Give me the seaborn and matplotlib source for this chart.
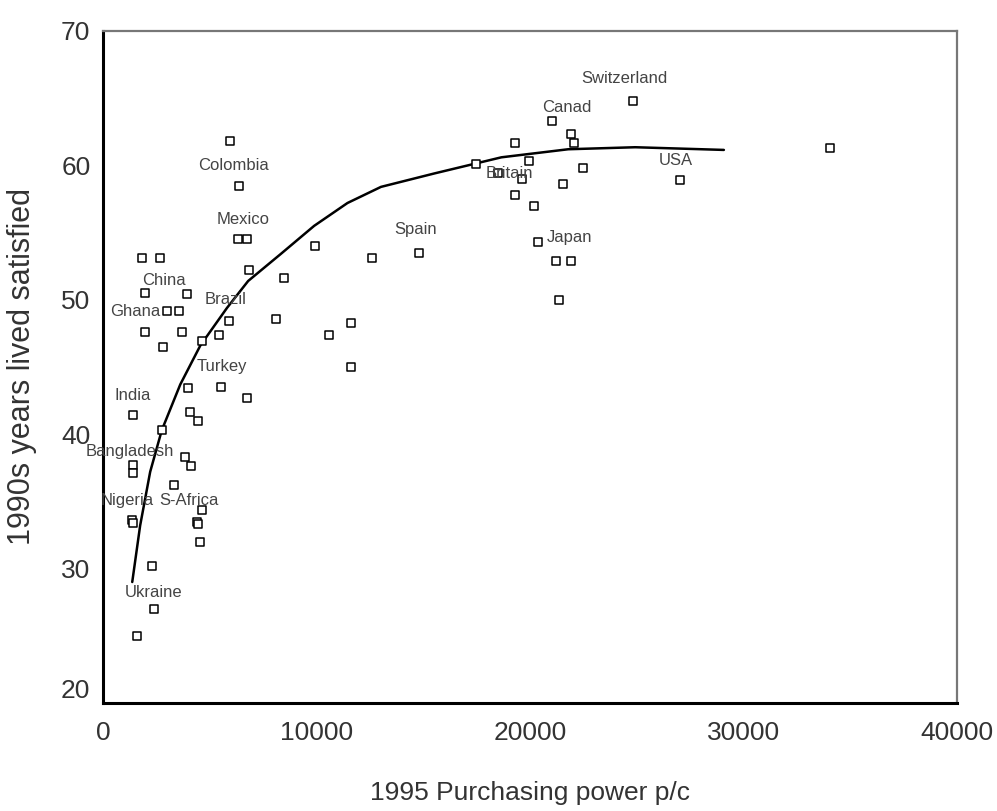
import numpy as np
import pandas as pd
import seaborn as sns
import matplotlib.pyplot as plt

# points: purchasing power p/c vs years lived satisfied
ppp = [1819, 2679, 1960, 3934, 2994, 3560, 1960, 3720, 2806, 4650,
       5450, 5900, 8100, 6850, 8475, 6312, 6752, 5969, 6364, 9940,
       12620, 14800, 11609, 10590, 11609, 3970, 5520, 6752, 1424, 4056,
       4440, 2755, 1424, 1424, 3854, 4100, 3305, 4638, 1350, 1410,
       4380, 4450, 4540, 2288, 2366, 1583, 24845, 21009, 21916, 22072,
       19284, 19942, 17484, 18503, 19632, 22500, 21559, 19284, 20194, 20382,
       21197, 21916, 21356, 27040, 34043]
satisfied = [53.1, 53.1, 50.5, 50.4, 49.2, 49.2, 47.6, 47.6, 46.5, 46.9,
             47.4, 48.45, 48.55, 52.25, 51.65, 54.55, 54.55, 61.85, 58.5, 54.0,
             53.1, 53.5, 48.3, 47.4, 45.0, 43.4, 43.5, 42.7, 41.4, 41.65,
             40.95, 40.3, 37.7, 37.1, 38.3, 37.6, 36.2, 34.35, 33.6, 33.4,
             33.5, 33.3, 32.0, 30.2, 27.0, 25.0, 64.8, 63.3, 62.35, 61.65,
             61.7, 60.35, 60.1, 59.4, 59.0, 59.8, 58.6, 57.8, 57.0, 54.3,
             52.9, 52.9, 50.0, 58.9, 61.3]

# fitted curve, read at points along the line
fit_x = [1370, 1740, 2210, 2755, 3620, 4560, 5810, 6800, 8320, 9890,
         11450, 13020, 15520, 18660, 21790, 24930, 29080]
fit_y = [29.0, 33.2, 37.2, 40.3, 43.7, 46.6, 49.4, 51.4, 53.4, 55.5,
         57.2, 58.4, 59.4, 60.6, 61.2, 61.35, 61.15]

# country labels
label_names = ['Switzerland', 'Canad', 'Colombia', 'Mexico', 'China', 'Brazil',
               'Ghana', 'Turkey', 'India', 'Bangladesh', 'Nigeria', 'S-Africa',
               'Ukraine', 'Spain', 'Britain', 'Japan', 'USA']
label_x = [24440, 21714, 6110, 6580, 2834, 5734, 1504, 5579, 1381, 1270,
           1113, 4010, 2366, 14664, 19050, 21870, 26806]
label_y = [66.5, 64.3, 60.0, 56.0, 51.4, 50.0, 49.15, 45.0, 42.9, 38.7,
           35.1, 35.1, 28.2, 55.25, 59.4, 54.6, 60.4]

df = pd.DataFrame({'ppp': ppp, 'satisfied': satisfied})
df_fit = pd.DataFrame({'x': fit_x, 'y': fit_y})

sns.set_style('white')
plt.rcParams['font.family'] = ['Liberation Sans', 'DejaVu Sans']

fig = plt.figure(figsize=(9.97, 8.11), dpi=100)
ax = fig.add_axes([0.1033, 0.1332, 0.8566, 0.8286])

sns.lineplot(data=df_fit, x='x', y='y', color='black', linewidth=1.8,
             sort=False, ax=ax)
sns.scatterplot(data=df, x='ppp', y='satisfied', marker='s', s=30,
                facecolor='white', edgecolor='black', linewidth=1.1, ax=ax,
                zorder=3)

for name, lx, ly in zip(label_names, label_x, label_y):
    ax.text(lx, ly, name, ha='center', va='center', fontsize=12,
            color='#444444', clip_on=False, zorder=4)

ax.set_xlim(0, 40000)
ax.set_ylim(20, 70)
ax.set_xticks([0, 10000, 20000, 30000, 40000])
ax.set_yticks([20, 30, 40, 50, 60, 70])
ax.tick_params(axis='both', labelsize=19, colors='#333333', direction='out',
               length=4, width=1.5)
ax.tick_params(axis='x', pad=9)
ax.tick_params(axis='y', pad=5)
# the bottom "20" sits above the axis line in the original
ax.get_yticklabels()[0].set_va('bottom')

ax.set_xlabel('1995 Purchasing power p/c', fontsize=19, color='#333333')
ax.xaxis.set_label_coords(0.5, -0.134)
ax.xaxis.label.set_va('center')
ax.set_ylabel('1990s years lived satisfied', fontsize=22, color='#333333')
ax.yaxis.set_label_coords(-0.095, 0.5)
ax.yaxis.label.set_va('center')

for side in ['left', 'bottom']:
    ax.spines[side].set_color('black')
    ax.spines[side].set_linewidth(2.2)
for side in ['top', 'right']:
    ax.spines[side].set_color('#777777')
    ax.spines[side].set_linewidth(1.6)

plt.savefig('out.png', dpi=100)
plt.close()
